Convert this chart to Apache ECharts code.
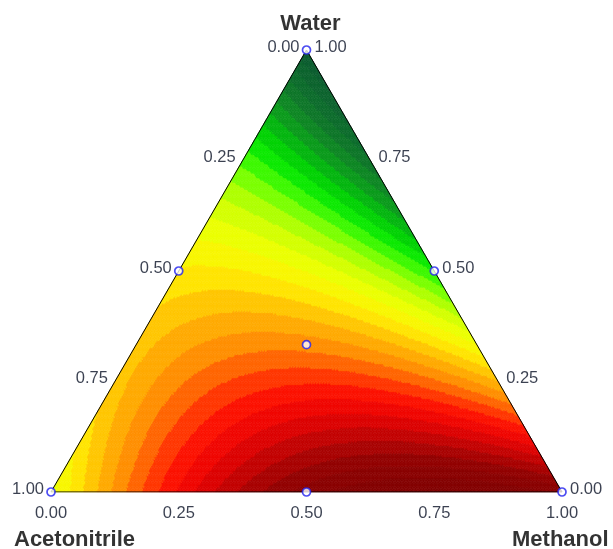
<!DOCTYPE html>
<html><head><meta charset="utf-8">
<script src="https://cdn.jsdelivr.net/npm/echarts@6/dist/echarts.min.js"></script>
<style>html,body{margin:0;padding:0;background:#fff}#c{width:613px;height:549px}</style>
</head><body><div id="c"></div><script>
// ---- data ----
const components = ['Water', 'Acetonitrile', 'Methanol'];
const tickValues = [0, 0.25, 0.5, 0.75, 1];
const tickLabels = ['0.00', '0.25', '0.50', '0.75', '1.00'];
// simplex-centroid design points (fractions)
const designWater        = [1, 0, 0, 0.5, 0.5, 0,   1/3];
const designAcetonitrile = [0, 1, 0, 0.5, 0,   0.5, 1/3];
const designMethanol     = [0, 0, 1, 0,   0.5, 0.5, 1/3];
// response at each design point (normalised)
const designResponse     = [0.00, 0.47, 0.97, 0.53, 0.31, 0.96, 0.65];

// ---- special cubic mixture model fitted exactly to the design ----
const y = designResponse;
const b1 = y[0], b2 = y[1], b3 = y[2];
const b12 = 4*y[3] - 2*y[0] - 2*y[1];
const b13 = 4*y[4] - 2*y[0] - 2*y[2];
const b23 = 4*y[5] - 2*y[1] - 2*y[2];
const b123 = 27*y[6] - 12*(y[3]+y[4]+y[5]) + 3*(y[0]+y[1]+y[2]);
function model(W, A, M) {
  return b1*W + b2*A + b3*M + b12*W*A + b13*W*M + b23*A*M + b123*W*A*M;
}
const H = Math.sqrt(3) / 2;
function toXY(W, A, M) { return [M + W / 2, W * H]; }

// ---- mesh of small triangles ----
const N = 190;
const mesh = [];
for (let a = 0; a < N; a++) {
  for (let b = 0; a + b < N; b++) {
    let M = (a + 1/3) / N, W = (b + 1/3) / N;
    mesh.push([M + W/2, W*H, model(W, 1 - M - W, M), a, b, 0]);
    if (a + b <= N - 2) {
      M = (a + 2/3) / N; W = (b + 2/3) / N;
      mesh.push([M + W/2, W*H, model(W, 1 - M - W, M), a, b, 1]);
    }
  }
}

// ---- colour bands ----
const cmap = [
  [0.00, '#0b5a30'], [0.08, '#0c682c'], [0.14, '#0e7c26'], [0.19, '#0a981c'],
  [0.23, '#04b80e'], [0.27, '#00d800'], [0.31, '#10f000'], [0.35, '#60ff00'],
  [0.42, '#c8ff00'], [0.48, '#f0ff00'], [0.53, '#ffee00'],
  [0.58, '#ffc400'], [0.62, '#ffa400'], [0.66, '#ff8400'], [0.70, '#ff4c00'],
  [0.745, '#ff1400'], [0.80, '#ec0000'], [0.86, '#c00000'], [0.92, '#940000'],
  [1.00, '#820000'], [1.10, '#7a0000']
];
function hex2rgb(h) { return [1,3,5].map(i => parseInt(h.substr(i, 2), 16)); }
function cmapAt(t) {
  for (let i = 1; i < cmap.length; i++) {
    if (t <= cmap[i][0]) {
      const f = (t - cmap[i-1][0]) / (cmap[i][0] - cmap[i-1][0]);
      const c0 = hex2rgb(cmap[i-1][1]), c1 = hex2rgb(cmap[i][1]);
      return 'rgb(' + c0.map((v, k) => Math.round(v + (c1[k] - v) * f)).join(',') + ')';
    }
  }
  return cmap[cmap.length - 1][1];
}
const step = 0.035;
const pieces = [];
for (let k = 0; k < 32; k++) {
  const lo = k * step, hi = (k + 1) * step;
  const p = { gte: k === 0 ? -10 : lo, color: cmapAt(Math.min(lo + step/2, 1.05)) };
  if (k < 31) p.lt = hi;
  pieces.push(p);
}

// ---- label helpers ----
const font = 'Liberation Sans, Arial, sans-serif';
const tickColor = '#0a1226';
function labelSeries(items, align, offset) {
  return {
    type: 'scatter', symbolSize: 1, silent: true, z: 5,
    itemStyle: { color: 'rgba(0,0,0,0)' },
    data: items,
    label: { show: true, position: 'inside', formatter: '{b}', align: align, verticalAlign: 'middle',
      offset: offset, fontFamily: font, fontSize: 16.5, color: tickColor }
  };
}
const bottomTicks = tickValues.map((v, i) => ({ name: tickLabels[i], value: toXY(0, 1 - v, v) }));
const leftTicks = tickValues.map((v, i) => ({ name: tickLabels[i], value: toXY(1 - v, v, 0) }));
const rightTicks = tickValues.map((v, i) => ({ name: tickLabels[i], value: toXY(v, 0, 1 - v) }));

const chart = echarts.init(document.getElementById('c'), null, { renderer: 'canvas' });
chart.setOption({
  animation: false,
  backgroundColor: '#fff',
  grid: { left: 51, right: 51, top: 50, bottom: 57 },
  xAxis: { type: 'value', min: 0, max: 1, show: false },
  yAxis: { type: 'value', min: 0, max: H, show: false },
  visualMap: { type: 'piecewise', show: false, dimension: 2, seriesIndex: 0, pieces: pieces },
  series: [
    {
      type: 'custom', silent: true, progressive: 0, z: 1,
      encode: { x: 0, y: 1 },
      data: mesh,
      renderItem: function (params, api) {
        const a = api.value(3), b = api.value(4), t = api.value(5);
        const pts = t === 0 ? [[a, b], [a + 1, b], [a, b + 1]] : [[a + 1, b], [a, b + 1], [a + 1, b + 1]];
        const points = pts.map(p => { const M = p[0] / N, W = p[1] / N; return api.coord([M + W / 2, W * H]); });
        const c = api.visual('color');
        return { type: 'polygon', shape: { points: points }, style: { fill: c, stroke: c, lineWidth: 0.6 } };
      }
    },
    {
      type: 'line', silent: true, z: 3, symbol: 'none',
      data: [toXY(0, 1, 0), toXY(0, 0, 1), toXY(1, 0, 0), toXY(0, 1, 0)],
      lineStyle: { color: '#000', width: 1 }
    },
    {
      type: 'scatter', silent: true, z: 4, symbol: 'circle', symbolSize: 8,
      itemStyle: { color: '#fff', borderColor: '#2020ee', borderWidth: 1.7 },
      data: designWater.map((w, i) => toXY(w, designAcetonitrile[i], designMethanol[i]))
    },
    labelSeries(bottomTicks, 'center', [0, 21]),
    labelSeries(leftTicks, 'right', [-7, -3]),
    labelSeries(rightTicks, 'left', [8, -3]),
    {
      type: 'scatter', symbolSize: 1, silent: true, z: 5,
      itemStyle: { color: 'rgba(0,0,0,0)' },
      data: [
        { name: components[0], value: toXY(1, 0, 0), label: { align: 'center', offset: [4, -26] } },
        { name: components[1], value: toXY(0, 1, 0), label: { align: 'left', offset: [-37, 48] } },
        { name: components[2], value: toXY(0, 0, 1), label: { align: 'left', offset: [-50, 48] } }
      ],
      label: { show: true, position: 'inside', formatter: '{b}', verticalAlign: 'middle',
        fontFamily: font, fontSize: 22, fontWeight: 'bold', color: '#000' }
    }
  ]
});
</script></body></html>
